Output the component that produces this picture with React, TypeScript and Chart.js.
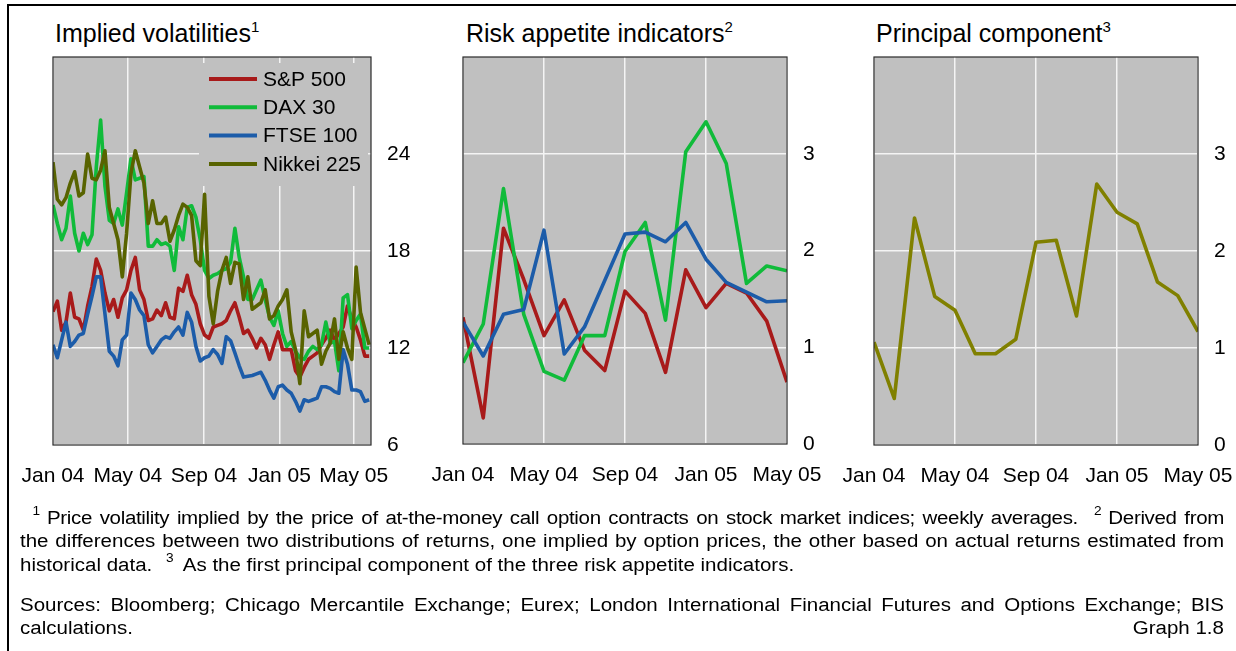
import React, { useEffect, useRef } from 'react';
import { Chart, registerables } from 'chart.js';

Chart.register(...registerables);

const FONT = '"Liberation Sans", Arial, Helvetica, sans-serif';

// ---- axis ticks / categories ----
const tickLabels = ['Jan 04', 'May 04', 'Sep 04', 'Jan 05', 'May 05'];
const volTickDays = [0, 121, 244, 366, 486]; // days since 1 Jan 2004
const monthTicks = [0, 4, 8, 12, 16]; // month index since Jan 2004
const volYTicks = [6, 12, 18, 24];
const riskYTicks = [0, 1, 2, 3];
const months = [0, 1, 2, 3, 4, 5, 6, 7, 8, 9, 10, 11, 12, 13, 14, 15, 16];

// ---- panel 1: implied volatilities (weekly averages) ----
const spVol = [
  14.25, 14.9, 13.1, 13.6, 15.4, 13.9, 13.8, 13.1, 14.6, 15.8,
  17.5, 16.8, 15.4, 14.3, 15.0, 13.9, 15.1, 15.6, 16.8, 17.6,
  15.6, 15.0, 13.7, 13.8, 14.35, 14.0, 14.8, 13.9, 13.8, 15.7,
  15.5, 16.5, 15.3, 14.7, 13.5, 12.8, 12.6, 13.3, 13.4, 13.5,
  13.7, 14.3, 14.8, 13.9, 12.9, 13.1, 12.6, 12.0, 12.6, 12.2,
  11.3, 12.2, 13.0, 11.9, 11.9, 11.9, 10.6, 10.2, 10.8, 11.3,
  11.5, 11.7, 12.2, 12.6, 13.1, 12.5, 12.9, 13.3, 14.6, 13.8,
  13.3, 12.5, 11.5, 11.5,
];
const daxVol = [
  20.85, 19.7, 18.7, 19.4, 21.4, 19.1, 18.0, 19.1, 18.4, 19.0,
  23.2, 26.1, 22.0, 19.9, 19.7, 20.6, 19.6, 21.6, 23.7, 22.4,
  22.5, 22.6, 18.3, 18.3, 18.7, 18.4, 18.5, 18.3, 16.8, 19.5,
  18.7, 20.7, 20.8, 20.1, 18.7, 16.8, 16.3, 16.5, 16.6, 16.8,
  16.9, 17.3, 19.4, 17.6, 16.4, 15.0, 15.0, 15.6, 16.2, 15.0,
  13.9, 13.4, 14.3, 12.9, 12.1, 12.4, 11.8, 11.4, 11.3, 11.8,
  12.1, 11.9, 12.2, 13.6, 12.3, 12.4, 10.6, 15.1, 15.3, 13.2,
  13.7, 14.1, 12.0, 12.0,
];
const ftseVol = [
  12.2, 11.4, 12.5, 13.6, 12.1, 12.4, 12.8, 12.9, 14.1, 15.2,
  16.4, 16.4, 14.1, 11.8, 11.5, 10.9, 12.5, 12.8, 15.4, 15.0,
  14.35, 14.0, 12.2, 11.7, 12.1, 12.5, 12.7, 12.6, 13.0, 13.3,
  12.8, 14.2, 13.6, 12.1, 11.2, 11.4, 11.5, 11.9, 11.6, 11.05,
  12.7, 12.45, 11.7, 10.9, 10.2, 10.25, 10.3, 10.4, 10.5, 10.0,
  9.4, 8.9, 9.6, 9.7, 9.4, 9.2, 8.7, 8.1, 8.8, 8.7,
  8.8, 8.9, 9.6, 9.6, 9.5, 9.3, 9.2, 11.9, 11.0, 9.4,
  9.4, 9.3, 8.7, 8.8,
];
const nikkeiVol = [
  23.5, 21.2, 20.85, 21.3, 22.2, 22.9, 21.4, 21.6, 24.0, 22.5,
  22.4, 23.0, 24.2, 20.7, 19.7, 18.7, 16.4, 19.1, 22.8, 24.2,
  23.2, 22.2, 19.7, 21.1, 19.7, 19.7, 20.1, 18.6, 19.3, 20.2,
  20.9, 20.7, 20.2, 17.4, 17.1, 21.5, 15.2, 13.5, 15.5, 16.8,
  17.6, 16.0, 17.3, 17.2, 15.0, 16.4, 14.4, 14.6, 14.8, 15.6,
  13.8, 14.0, 14.6, 15.0, 15.6, 13.0, 11.9, 9.8, 14.3, 12.7,
  12.9, 13.1, 11.0, 11.8, 12.3, 13.8, 11.3, 13.0, 12.0, 11.3,
  17.0, 14.2, 13.2, 12.2,
];
const weekDays = spVol.map((_, i) => i * 7); // weekly observations, days since 1 Jan 2004

// ---- panel 2: risk appetite indicators (monthly) ----
const riskSP = [1.31, 0.27, 2.23, 1.7, 1.12, 1.49, 0.97, 0.76, 1.58, 1.35, 0.74, 1.8, 1.41, 1.66, 1.56, 1.27, 0.64];
const riskDAX = [0.84, 1.24, 2.64, 1.34, 0.75, 0.66, 1.12, 1.12, 1.99, 2.29, 1.28, 3.02, 3.33, 2.9, 1.66, 1.84, 1.79];
const riskFTSE = [1.26, 0.91, 1.34, 1.39, 2.21, 0.93, 1.21, 1.69, 2.17, 2.19, 2.09, 2.29, 1.91, 1.67, 1.57, 1.47, 1.48];

// ---- panel 3: principal component ----
const principal = [1.06, 0.48, 2.34, 1.53, 1.39, 0.94, 0.94, 1.09, 2.09, 2.11, 1.33, 2.69, 2.4, 2.28, 1.68, 1.54, 1.17];

const seriesNames = ['S&P 500', 'DAX 30', 'FTSE 100', 'Nikkei 225'];
const C_RED = '#A81A1A';
const C_GREEN = '#10BB3A';
const C_BLUE = '#1C5CA9';
const C_DOLIVE = '#586300';
const C_OLIVE = '#808000';
const seriesColors = [C_RED, C_GREEN, C_BLUE, C_DOLIVE];

const plotFrame = {
  id: 'plotFrame',
  beforeDraw(chart: any) {
    const { ctx, chartArea: a } = chart;
    ctx.save();
    ctx.fillStyle = '#C0C0C0';
    ctx.fillRect(a.left, a.top, a.right - a.left, a.bottom - a.top);
    ctx.restore();
  },
  afterDatasetsDraw(chart: any) {
    const { ctx, chartArea: a } = chart;
    ctx.save();
    ctx.strokeStyle = '#2a2a2a';
    ctx.lineWidth = 1.2;
    ctx.strokeRect(a.left, a.top, a.right - a.left, a.bottom - a.top);
    ctx.restore();
  },
};

const volLegend = {
  id: 'volLegend',
  beforeDatasetsDraw(chart: any) {
    const { ctx, chartArea: a } = chart;
    ctx.save();
    ctx.fillStyle = '#C0C0C0';
    ctx.fillRect(a.right - 172, a.top + 6, 169, 123);
    seriesNames.forEach((name, k) => {
      const y = a.top + 22 + 28.3 * k;
      ctx.strokeStyle = seriesColors[k];
      ctx.lineWidth = 4;
      ctx.beginPath();
      ctx.moveTo(a.right - 162, y);
      ctx.lineTo(a.right - 114, y);
      ctx.stroke();
      ctx.fillStyle = '#000';
      ctx.font = `21px ${FONT}`;
      ctx.textBaseline = 'middle';
      ctx.textAlign = 'left';
      ctx.fillText(name, a.right - 108, y + 1);
    });
    ctx.restore();
  },
};

function line(data: number[], xs: number[], color: string, order: number) {
  return {
    data: data.map((v, i) => ({ x: xs[i], y: v })),
    borderColor: color,
    backgroundColor: color,
    borderWidth: 3.6,
    pointRadius: 0,
    tension: 0,
    borderJoinStyle: 'round',
    borderCapStyle: 'butt',
    order,
  };
}

function makeConfig(opts: {
  datasets: any[];
  xMin: number;
  xMax: number;
  xTicks: number[];
  yMin: number;
  yMax: number;
  yTicks: number[];
  padLeft: number;
  xHeight: number;
  yWidth: number;
  plugins: any[];
}) {
  const tickFont = { family: FONT, size: 21 };
  const hidden = 'rgba(0,0,0,0)';
  return {
    type: 'line',
    data: { datasets: opts.datasets },
    plugins: opts.plugins,
    options: {
      animation: false,
      responsive: false,
      devicePixelRatio: 1,
      layout: { padding: { left: opts.padLeft, top: 57, right: 0, bottom: 0 } },
      plugins: { legend: { display: false }, tooltip: { enabled: false }, title: { display: false } },
      scales: {
        x: {
          type: 'linear',
          min: opts.xMin,
          max: opts.xMax,
          afterBuildTicks: (s: any) => {
            s.ticks = opts.xTicks.map((v) => ({ value: v }));
          },
          afterFit: (s: any) => {
            s.height = opts.xHeight;
          },
          ticks: {
            callback: (_v: any, i: number) => tickLabels[i],
            font: tickFont,
            color: '#000',
            padding: 3,
            maxRotation: 0,
            autoSkip: false,
          },
          grid: { color: '#F4F4F4', lineWidth: 1.5, drawTicks: true, tickLength: 16, tickColor: hidden },
          border: { display: false },
        },
        y: {
          type: 'linear',
          position: 'right',
          min: opts.yMin,
          max: opts.yMax,
          afterBuildTicks: (s: any) => {
            s.ticks = opts.yTicks.map((v) => ({ value: v }));
          },
          afterFit: (s: any) => {
            s.width = opts.yWidth;
          },
          ticks: {
            font: tickFont,
            color: '#000',
            padding: 3,
            autoSkip: false,
          },
          grid: { color: '#F4F4F4', lineWidth: 1.5, drawTicks: true, tickLength: 13, tickColor: hidden },
          border: { display: false },
        },
      },
    },
  };
}

function Panel(props: { left: number; width: number; config: any }) {
  const ref = useRef<HTMLCanvasElement | null>(null);
  useEffect(() => {
    if (!ref.current) return;
    const chart = new Chart(ref.current, props.config);
    return () => chart.destroy();
  }, []);
  return (
    <canvas
      ref={ref}
      width={props.width}
      height={510}
      style={{ position: 'absolute', left: props.left, top: 0, width: props.width, height: 510 }}
    />
  );
}

const sup = (n: string, size: number, top: number) => (
  <span style={{ fontSize: size, position: 'relative', top, verticalAlign: 'baseline' }}>{n}</span>
);

const noteSup = (n: string, ml: number, mr: number) => (
  <span
    style={{
      display: 'inline-block',
      fontSize: 12,
      position: 'relative',
      top: -8.5,
      marginLeft: ml,
      marginRight: mr,
      lineHeight: '12px',
      letterSpacing: 0,
    }}
  >
    {n}
  </span>
);

const FOOT_SCALE = 1.14;

export default function App() {
  useEffect(() => {
    document.body.style.margin = '0';
  }, []);

  const cfg1 = makeConfig({
    datasets: [
      line(spVol, weekDays, C_RED, 3),
      line(daxVol, weekDays, C_GREEN, 2),
      line(ftseVol, weekDays, C_BLUE, 1),
      line(nikkeiVol, weekDays, C_DOLIVE, 0),
    ],
    xMin: 0,
    xMax: 514,
    xTicks: volTickDays,
    yMin: 6,
    yMax: 30,
    yTicks: volYTicks,
    padLeft: 53,
    xHeight: 65,
    yWidth: 59,
    plugins: [plotFrame, volLegend],
  });
  const cfg2 = makeConfig({
    datasets: [
      line(riskSP, months, C_RED, 2),
      line(riskDAX, months, C_GREEN, 1),
      line(riskFTSE, months, C_BLUE, 0),
    ],
    xMin: 0,
    xMax: 16,
    xTicks: monthTicks,
    yMin: 0,
    yMax: 4,
    yTicks: riskYTicks,
    padLeft: 43,
    xHeight: 66,
    yWidth: 53,
    plugins: [plotFrame],
  });
  const cfg3 = makeConfig({
    datasets: [line(principal, months, C_OLIVE, 0)],
    xMin: 0,
    xMax: 16,
    xTicks: monthTicks,
    yMin: 0,
    yMax: 4,
    yTicks: riskYTicks,
    padLeft: 44,
    xHeight: 65,
    yWidth: 38,
    plugins: [plotFrame],
  });

  const titleStyle = (left: number): React.CSSProperties => ({
    position: 'absolute',
    left,
    top: 21,
    fontSize: 25,
    lineHeight: '25px',
    whiteSpace: 'nowrap',
    color: '#000',
  });

  const just: React.CSSProperties = { textAlign: 'justify', textAlignLast: 'justify', whiteSpace: 'nowrap' };

  return (
    <div
      style={{
        position: 'absolute',
        left: 0,
        top: 0,
        width: 1236,
        height: 651,
        background: '#fff',
        fontFamily: FONT,
        overflow: 'hidden',
      }}
    >
      <div style={{ position: 'absolute', left: 7, top: 4, width: 1229, height: 2, background: '#000' }} />
      <div style={{ position: 'absolute', left: 7, top: 4, width: 2, height: 647, background: '#000' }} />

      <div style={titleStyle(55)}>Implied volatilities{sup('1', 15, -10)}</div>
      <div style={titleStyle(466)}>Risk appetite indicators{sup('2', 15, -10)}</div>
      <div style={titleStyle(876)}>Principal component{sup('3', 15, -10)}</div>

      <Panel left={0} width={430} config={cfg1} />
      <Panel left={420} width={420} config={cfg2} />
      <Panel left={830} width={406} config={cfg3} />

      <div
        style={{
          position: 'absolute',
          left: 20,
          top: 506.5,
          width: 1204 / FOOT_SCALE,
          transform: `scaleX(${FOOT_SCALE})`,
          transformOrigin: 'left top',
          fontSize: 18,
          lineHeight: '23.7px',
          color: '#000',
        }}
      >
        <div style={{ ...just, letterSpacing: -0.3 }}>
          {noteSup('1', 11, 6)}Price volatility implied by the price of at-the-money call option contracts on stock market
          indices; weekly averages.{noteSup('2', 14, 6)}Derived from
        </div>
        <div style={just}>
          the differences between two distributions of returns, one implied by option prices, the other based on actual
          returns estimated from
        </div>
        <div style={{ whiteSpace: 'nowrap' }}>
          historical data.{noteSup('3', 12, 8)}As the first principal component of the three risk appetite indicators.
        </div>
        <div style={{ ...just, marginTop: 16 }}>
          Sources: Bloomberg; Chicago Mercantile Exchange; Eurex; London International Financial Futures and Options
          Exchange; BIS
        </div>
        <div style={{ display: 'flex', justifyContent: 'space-between' }}>
          <span>calculations.</span>
          <span>Graph 1.8</span>
        </div>
      </div>
    </div>
  );
}
